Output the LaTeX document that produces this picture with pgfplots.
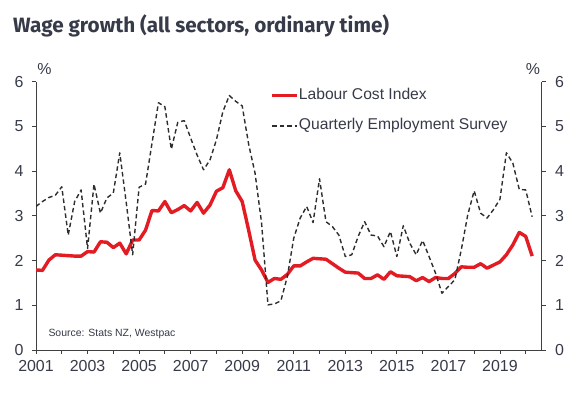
\documentclass[border=0pt]{standalone}
\usepackage{fontspec}
\setmainfont{Liberation Sans}
\newfontfamily\titlefont{Fira Sans}
\usepackage{pgfplots}
\pgfplotsset{compat=1.18}
\definecolor{wred}{RGB}{227,27,35}
\definecolor{txt}{RGB}{55,58,72}
\definecolor{axc}{RGB}{64,64,64}
\definecolor{qes}{RGB}{45,45,45}

\pgfplotstableread{
x y
2001.00 1.79
2001.25 1.78
2001.50 2.01
2001.75 2.13
2002.00 2.12
2002.25 2.11
2002.50 2.10
2002.75 2.10
2003.00 2.20
2003.25 2.19
2003.50 2.42
2003.75 2.41
2004.00 2.29
2004.25 2.39
2004.50 2.15
2004.75 2.46
2005.00 2.46
2005.25 2.68
2005.50 3.12
2005.75 3.11
2006.00 3.32
2006.25 3.07
2006.50 3.14
2006.75 3.23
2007.00 3.11
2007.25 3.30
2007.50 3.06
2007.75 3.24
2008.00 3.55
2008.25 3.63
2008.50 4.03
2008.75 3.56
2009.00 3.32
2009.25 2.68
2009.50 2.01
2009.75 1.79
2010.00 1.51
2010.25 1.60
2010.50 1.58
2010.75 1.69
2011.00 1.88
2011.25 1.88
2011.50 1.97
2011.75 2.05
2012.00 2.04
2012.25 2.03
2012.50 1.93
2012.75 1.83
2013.00 1.74
2013.25 1.73
2013.50 1.72
2013.75 1.60
2014.00 1.60
2014.25 1.68
2014.50 1.58
2014.75 1.75
2015.00 1.66
2015.25 1.65
2015.50 1.64
2015.75 1.55
2016.00 1.62
2016.25 1.53
2016.50 1.62
2016.75 1.60
2017.00 1.60
2017.25 1.71
2017.50 1.86
2017.75 1.85
2018.00 1.85
2018.25 1.93
2018.50 1.83
2018.75 1.90
2019.00 1.97
2019.25 2.13
2019.50 2.35
2019.75 2.63
2020.00 2.54
2020.25 2.10
}\lci

\pgfplotstableread{
x y
2001.00 3.21
2001.25 3.32
2001.50 3.41
2001.75 3.46
2002.00 3.65
2002.25 2.57
2002.50 3.32
2002.75 3.58
2003.00 2.27
2003.25 3.71
2003.50 3.06
2003.75 3.40
2004.00 3.51
2004.25 4.41
2004.50 3.30
2004.75 2.13
2005.00 3.64
2005.25 3.71
2005.50 4.62
2005.75 5.53
2006.00 5.44
2006.25 4.49
2006.50 5.09
2006.75 5.13
2007.00 4.74
2007.25 4.36
2007.50 4.03
2007.75 4.25
2008.00 4.70
2008.25 5.33
2008.50 5.69
2008.75 5.56
2009.00 5.46
2009.25 4.60
2009.50 3.95
2009.75 2.85
2010.00 1.01
2010.25 1.03
2010.50 1.10
2010.75 1.64
2011.00 2.50
2011.25 2.95
2011.50 3.21
2011.75 2.85
2012.00 3.83
2012.25 2.87
2012.50 2.76
2012.75 2.57
2013.00 2.09
2013.25 2.13
2013.50 2.54
2013.75 2.87
2014.00 2.57
2014.25 2.55
2014.50 2.31
2014.75 2.65
2015.00 2.09
2015.25 2.78
2015.50 2.39
2015.75 2.13
2016.00 2.45
2016.25 2.09
2016.50 1.72
2016.75 1.27
2017.00 1.42
2017.25 1.57
2017.50 2.24
2017.75 3.02
2018.00 3.56
2018.25 3.06
2018.50 2.95
2018.75 3.14
2019.00 3.37
2019.25 4.41
2019.50 4.18
2019.75 3.59
2020.00 3.58
2020.25 2.98
}\qes

\begin{document}
\begin{tikzpicture}
\useasboundingbox (0,0) rectangle (577bp,397bp);
\pgfplotsset{
  common/.style={
    at={(36bp,47bp)}, anchor=south west,
    scale only axis, width=505.7bp, height=268.3bp,
    xmin=2001, xmax=2020.62, ymin=0, ymax=6,
    ytick={0,1,2,3,4,5,6},
    tick align=outside,
    major tick length=4bp, minor tick length=4bp,
    every tick/.style={axc, line width=0.8bp},
    every minor tick/.style={axc, line width=0.8bp},
    axis line style={axc, line width=0.8bp},
    tick label style={font=\fontsize{16}{18}\selectfont, text=txt},
    /pgf/number format/assume math mode=true,
  }
}
\begin{axis}[common,
  axis x line*=bottom, axis y line*=left,
  xtick={2001,2003,2005,2007,2009,2011,2013,2015,2017,2019},
  xticklabels={2001,2003,2005,2007,2009,2011,2013,2015,2017,2019},
  minor xtick={2002,2004,2006,2008,2010,2012,2014,2016,2018,2020},
  xticklabel style={yshift=-3bp},
  yticklabel style={xshift=-5bp},
  legend style={draw=none, fill=none, at={(axis cs:2010.1,5.86)}, anchor=north west,
    inner sep=0pt, outer sep=0pt, row sep=15.5bp,
    font=\fontsize{15.7}{18}\selectfont, text=txt,
    nodes={inner sep=0pt, text height=11.5bp, text depth=3.5bp}},
  legend cell align=left,
]
\addplot[wred, line width=3.4bp, line join=round,
  legend image code/.code={\draw[wred, line width=3.4bp] (0bp,0bp) -- (25bp,0bp);}] table {\lci};
\addlegendentry{Labour Cost Index}
\addplot[qes, line width=1.4bp, dash pattern=on 4.5bp off 3bp, line join=round,
  legend image code/.code={\draw[qes, line width=1.4bp, dash pattern=on 4.5bp off 3bp] (0bp,0bp) -- (25bp,0bp);}] table {\qes};
\addlegendentry{Quarterly Employment Survey}
\end{axis}
\begin{axis}[common,
  axis x line=none, axis y line*=right,
  yticklabel style={xshift=6bp},
]
\addplot[draw=none] coordinates {(2001,0)};
\end{axis}
\node[anchor=base west, inner sep=0pt, font=\titlefont\bfseries\fontsize{20.8}{25}\selectfont, text=txt] at (13bp,364bp) {Wage growth (all sectors, ordinary time)};
\node[inner sep=0pt, font=\fontsize{16}{18}\selectfont, text=txt] at (44.5bp,328bp) {\%};
\node[inner sep=0pt, font=\fontsize{16}{18}\selectfont, text=txt] at (533bp,328bp) {\%};
\node[anchor=base west, inner sep=0pt, font=\fontsize{10.5}{12}\selectfont, text=txt] at (48.3bp,60.5bp) {Source: Stats NZ, Westpac};
\end{tikzpicture}
\end{document}
